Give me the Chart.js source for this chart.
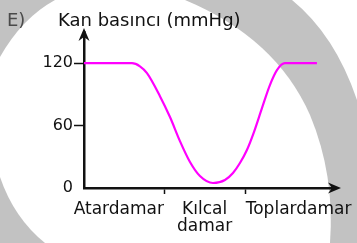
<!DOCTYPE html>
<html>
<head>
<meta charset="utf-8">
<script src="https://cdn.jsdelivr.net/npm/chart.js@4.4.1/dist/chart.umd.min.js"></script>
<style>
  html, body { margin: 0; padding: 0; background: #fff; }
</style>
</head>
<body>
<canvas id="bloodChart" width="357" height="243"></canvas>
<script>
// values
const vesselLabels = ['Atardamar', ['Kılcal', 'damar'], 'Toplardamar'];
const labelSpots = [0.43, 1.49, 2.65];
const vesselBorders = [1, 2];
const yTickValues = [0, 60, 120];
const curveX = [0, 0.593, 0.691, 0.778, 0.938, 1.062, 1.185, 1.309, 1.432, 1.593, 1.741, 1.840, 1.926, 2.012, 2.099, 2.198, 2.296, 2.383, 2.481, 2.877];
const pressure = [120, 120, 117, 110.4, 88.3, 68.2, 45.1, 25, 11.5, 4.8, 7.7, 14.4, 24, 36.5, 53.8, 76.8, 98.9, 113.3, 120, 120];

const FONT = 'DejaVu Sans';
const INK = '#111';

// gray watermark behind the drawing
const backdrop = {
  id: 'backdrop',
  beforeDraw(chart) {
    const c = chart.ctx;
    c.save();
    c.fillStyle = '#c2c2c2';
    c.fillRect(0, 0, chart.width, chart.height);
    c.fillStyle = '#fff';
    c.beginPath();
    c.moveTo(0, 57);
    c.quadraticCurveTo(22, 18, 55, 0);
    c.lineTo(185, 0);
    c.quadraticCurveTo(276, 38, 310, 115);
    c.quadraticCurveTo(335, 175, 330, 243);
    c.lineTo(45, 243);
    c.quadraticCurveTo(14, 218, 0, 177);
    c.closePath();
    c.fill();
    c.beginPath();
    c.moveTo(292, 0);
    c.quadraticCurveTo(335, 35, 357, 100);
    c.lineTo(357, 0);
    c.closePath();
    c.fill();
    c.restore();
  }
};

// arrow heads and the title texts
const extras = {
  id: 'extras',
  afterDraw(chart) {
    const c = chart.ctx;
    const a = chart.chartArea;
    c.save();
    c.fillStyle = INK;
    c.beginPath();
    c.moveTo(a.left, 28);
    c.lineTo(a.left - 5.5, 41);
    c.lineTo(a.left, 37);
    c.lineTo(a.left + 5.5, 41);
    c.closePath();
    c.fill();
    c.fillRect(a.left - 1.25, 36, 2.5, a.top - 34);
    c.beginPath();
    c.moveTo(341, a.bottom);
    c.lineTo(328, a.bottom - 5.5);
    c.lineTo(332, a.bottom);
    c.lineTo(328, a.bottom + 5.5);
    c.closePath();
    c.fill();
    c.fillRect(a.right - 1, a.bottom - 1.25, 333 - a.right, 2.5);

    c.textBaseline = 'alphabetic';
    c.textAlign = 'left';
    c.font = '18px "' + FONT + '"';
    c.fillStyle = '#4a4a4a';
    c.fillText('E)', 7, 26);
    c.fillStyle = INK;
    c.fillText('Kan basıncı (mmHg)', 58, 26);
    c.restore();
  }
};

new Chart(document.getElementById('bloodChart'), {
  type: 'line',
  data: {
    datasets: [{
      data: curveX.map((x, i) => ({ x: x, y: pressure[i] })),
      borderColor: '#ff00ff',
      borderWidth: 2.2,
      pointRadius: 0,
      cubicInterpolationMode: 'monotone',
      fill: false
    }]
  },
  options: {
    responsive: false,
    animation: false,
    layout: { padding: { left: 0, right: 22, top: 32, bottom: 0 } },
    plugins: {
      legend: { display: false },
      tooltip: { enabled: false }
    },
    scales: {
      x: {
        type: 'linear',
        min: 0,
        max: 3.1,
        border: { color: INK, width: 2.5 },
        grid: {
          drawOnChartArea: false,
          tickLength: 6,
          tickWidth: 1.5,
          tickColor: ctx => (ctx.tick && vesselBorders.includes(ctx.tick.value)) ? INK : 'rgba(0,0,0,0)'
        },
        afterBuildTicks: s => {
          s.ticks = labelSpots.concat(vesselBorders).sort((p, q) => p - q).map(v => ({ value: v }));
        },
        afterFit: s => {
          s.height = 55;
          // labels may hang past the plot, there is room for them
          s.paddingLeft = 0;
          s.paddingRight = 0;
        },
        ticks: {
          autoSkip: false,
          maxRotation: 0,
          padding: 7,
          color: INK,
          font: { family: FONT, size: 17, lineHeight: 1.0 },
          callback: v => {
            const i = labelSpots.indexOf(v);
            return i >= 0 ? vesselLabels[i] : '';
          }
        }
      },
      y: {
        min: 0,
        max: 150,
        border: { color: INK, width: 2.5 },
        grid: {
          drawOnChartArea: false,
          tickLength: 10,
          tickWidth: 1.5,
          tickColor: ctx => (ctx.tick && ctx.tick.value === 0) ? 'rgba(0,0,0,0)' : INK
        },
        afterBuildTicks: s => {
          s.ticks = yTickValues.map(v => ({ value: v }));
        },
        afterFit: s => { s.width = 84; },
        ticks: {
          padding: 1,
          color: INK,
          font: { family: FONT, size: 16 }
        }
      }
    }
  },
  plugins: [backdrop, extras]
});
</script>
</body>
</html>
